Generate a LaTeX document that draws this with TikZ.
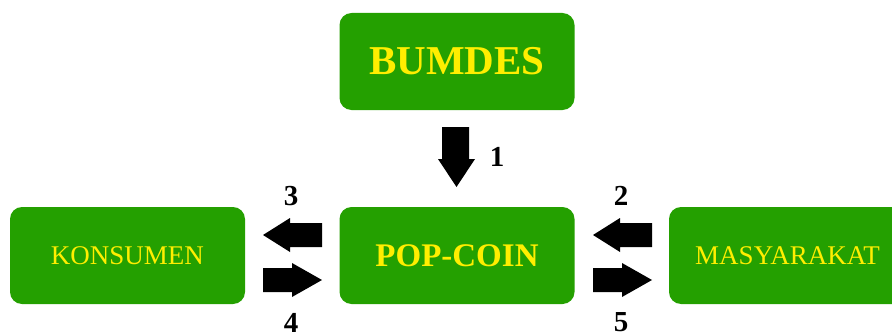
\documentclass[tikz,border=0pt]{standalone}
\usepackage{fontspec}
\setmainfont{Liberation Serif}
\definecolor{boxgreen}{RGB}{36,160,0}
\definecolor{boxyellow}{RGB}{255,238,0}
\tikzset{
  box/.style={fill=boxgreen, draw=none, rounded corners=12pt, minimum width=235pt, minimum height=97pt, inner sep=0pt, text=boxyellow},
  bigbold/.style={font=\fontsize{41}{41}\selectfont\bfseries},
  midbold/.style={font=\fontsize{33}{33}\selectfont\bfseries},
  plain/.style={font=\fontsize{27}{27}\selectfont},
  num/.style={font=\fontsize{29}{29}\selectfont\bfseries, inner sep=0pt},
  blk/.style={fill=black, draw=none}
}
\begin{document}
\begin{tikzpicture}[x=1pt,y=1pt]
\useasboundingbox (0,0) rectangle (892,333);
\clip (0,0) rectangle (892,333);
\node[box, bigbold] (bumdes) at (457,271.5) {BUMDES};
\node[box, midbold] (pop) at (457,77.5) {POP-COIN};
\node[box, plain] (kons) at (127.5,77.5) {KONSUMEN};
\node[box, plain, minimum width=237pt] (masy) at (787.5,77.5) {MASYARAKAT};
% arrow 1 (down)
\fill[blk] (442,206) -- (469,206) -- (469,174) -- (475,174) -- (456.5,146) -- (438,174) -- (442,174) -- cycle;
% arrow 3 (left)
\fill[blk] (322,110) -- (290,110) -- (290,115) -- (263,98) -- (290,81) -- (290,86) -- (322,86) -- cycle;
% arrow 4 (right)
\fill[blk] (263,65) -- (292,65) -- (292,70) -- (322,53) -- (292,36) -- (292,41) -- (263,41) -- cycle;
% arrow 2 (left)
\fill[blk] (652,110) -- (620,110) -- (620,115) -- (593,98) -- (620,81) -- (620,86) -- (652,86) -- cycle;
% arrow 5 (right)
\fill[blk] (593,65) -- (622,65) -- (622,70) -- (652,53) -- (622,36) -- (622,41) -- (593,41) -- cycle;
\node[num] (n1) at (497,176) {1};
\node[num] (n3) at (291,137) {3};
\node[num] (n4) at (291,10.5) {4};
\node[num] (n2) at (621,137) {2};
\node[num] (n5) at (621,10.5) {5};
\end{tikzpicture}
\end{document}
